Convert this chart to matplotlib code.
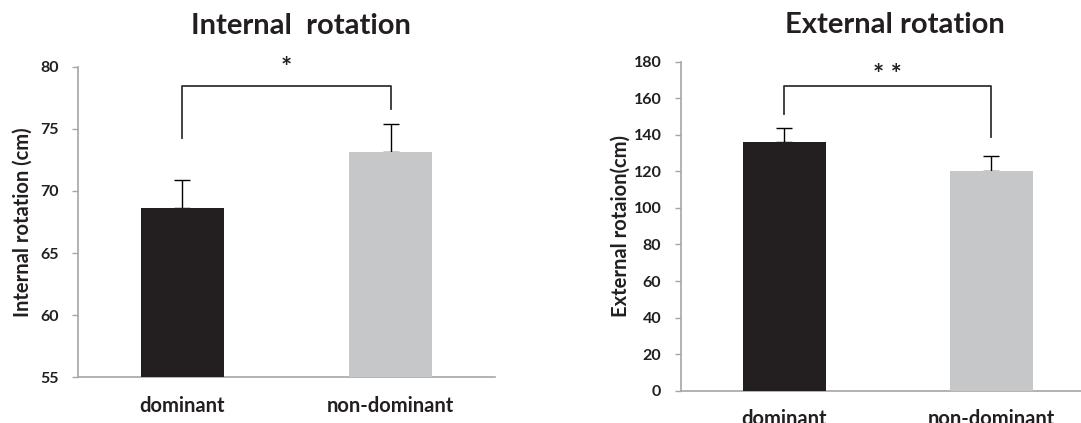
import matplotlib
matplotlib.use("Agg")
import matplotlib.pyplot as plt
import matplotlib.transforms as mtransforms

plt.rcParams['font.family'] = ['Lato', 'DejaVu Sans']
plt.rcParams['font.weight'] = 'bold'
plt.rcParams['axes.labelweight'] = 'bold'

groups = ["dominant", "non-dominant"]
bar_colors = ["#231f20", "#c6c7c9"]

# internal rotation (cm)
ir_mean = [68.6, 73.1]
ir_sd = [2.3, 2.25]
ir_ticks = [55, 60, 65, 70, 75, 80]
ir_bracket = [74.3, 78.45, 76.6]   # left leg end, top, right leg end
ir_star = "*"

# external rotation (cm)
er_mean = [136.2, 120.0]
er_sd = [7.7, 8.2]
er_ticks = [0, 20, 40, 60, 80, 100, 120, 140, 160, 180]
er_bracket = [151.4, 166.9, 138.9]
er_star = "* *"

TXT = "#231f20"
AXC = "#a6a6a6"
W, H = 1081, 423


def panel(fig, rect, means, sds, ticks, bracket, star, star_y, title,
          title_xy, ylabel, ylabel_x, xmax=1.5):
    ax = fig.add_axes(rect)
    x = list(range(len(groups)))
    ax.bar(x, means, width=0.4, color=bar_colors, zorder=3)
    ax.errorbar(x, means, yerr=[[0] * len(sds), sds], fmt='none',
                ecolor='black', elinewidth=1, capsize=5.5, capthick=1,
                zorder=2)

    ax.set_xlim(-0.5, xmax)
    ax.set_ylim(ticks[0], ticks[-1])
    ax.set_yticks(ticks)
    ax.set_xticks(x)
    ax.set_xticklabels(groups, fontsize=14.5, color=TXT)

    for s in ['top', 'right']:
        ax.spines[s].set_visible(False)
    for s in ['left', 'bottom']:
        ax.spines[s].set_color(AXC)
        ax.spines[s].set_linewidth(1.2)
    ax.tick_params(axis='y', length=4, width=1, color=AXC, pad=10,
                   labelsize=11.5, labelcolor=TXT)
    ax.tick_params(axis='x', length=0, pad=13.5)

    # significance bracket
    ax.plot([0, 0, 1, 1], [bracket[0], bracket[1], bracket[1], bracket[2]],
            color='#333333', lw=1.3, clip_on=False, zorder=4)
    ax.text(0.5, star_y, star, ha='center', va='center', fontsize=19,
            color=TXT, clip_on=False)

    fig.text(title_xy[0] / W, 1 - title_xy[1] / H, title, ha='center',
             va='baseline', fontsize=21, color=TXT)

    ax.set_ylabel(ylabel, fontsize=14.5, color=TXT)
    ax.yaxis.label.set_va('center')
    tr = mtransforms.blended_transform_factory(fig.transFigure, ax.transAxes)
    ax.yaxis.set_label_coords(ylabel_x / W, 0.5, transform=tr)
    return ax


fig = plt.figure(figsize=(10.81, 4.23), dpi=100)

panel(fig, [78.3 / W, 1 - 377.3 / H, 416.4 / W, 310.6 / H],
      ir_mean, ir_sd, ir_ticks, ir_bracket, ir_star, 79.9,
      "Internal  rotation", (300.7, 34.3), "Internal rotation (cm)", 23)

panel(fig, [680.8 / W, 1 - 390.7 / H, 414 / W, 329 / H],
      er_mean, er_sd, er_ticks, er_bracket, er_star, 172.5,
      "External rotation", (894.7, 33.3), "External rotaion(cm)", 621)

fig.savefig("out.png", dpi=100)
